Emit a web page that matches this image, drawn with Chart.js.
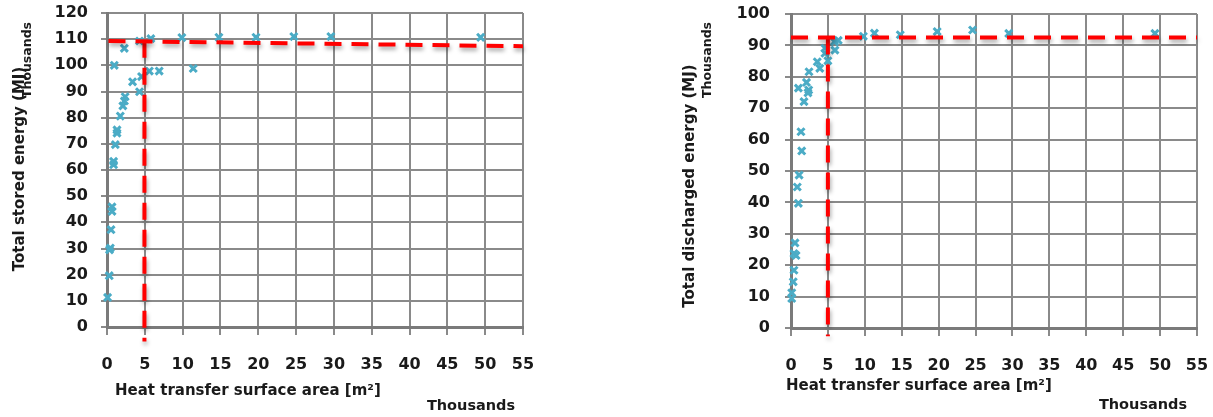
<!DOCTYPE html>
<html>
<head>
<meta charset="utf-8">
<script src="https://cdn.jsdelivr.net/npm/chart.js@4.4.1/dist/chart.umd.min.js"></script>
<style>
html, body { margin: 0; padding: 0; background: #fff; }
#wrap { position: relative; width: 1213px; height: 417px; overflow: hidden; }
canvas { position: absolute; top: 0; }
#storedChart { left: 0; }
#dischargedChart { left: 672px; }
</style>
</head>
<body>
<div id="wrap">
  <canvas id="storedChart" width="600" height="417"></canvas>
  <canvas id="dischargedChart" width="541" height="417"></canvas>
</div>
<script>
// area in thousands of m2, energy in thousands of MJ
var areaTicks = [0, 5, 10, 15, 20, 25, 30, 35, 40, 45, 50, 55];
var storedTicks = [0, 10, 20, 30, 40, 50, 60, 70, 80, 90, 100, 110, 120];
var dischargedTicks = [0, 10, 20, 30, 40, 50, 60, 70, 80, 90, 100];

var storedArea = [0.08, 0.3, 0.33, 0.44, 0.53, 0.66, 0.66, 0.87, 0.87, 1.1, 1.32, 1.32,
  1.76, 2.1, 2.3, 2.4, 0.96, 2.29, 3.38, 4.3, 4.57, 4.3, 5.6, 6.9, 5.8, 9.9, 11.4,
  14.8, 19.7, 24.7, 29.6, 49.4];
var storedEnergy = [11.3, 19.6, 29.5, 30.2, 37.2, 44.2, 45.9, 62.0, 63.3, 69.7, 74.1, 75.3,
  80.6, 84.5, 86.4, 88.0, 100.0, 106.5, 93.7, 89.9, 95.7, 109.3, 97.8, 97.8, 110.2, 110.6, 98.8,
  110.7, 110.7, 111.0, 111.0, 110.7];
// red guide lines
var storedLevelX = [0.2, 55];
var storedLevelY = [109.3, 107.3];
var storedCutX = [4.95, 4.95];
var storedCutY = [109.4, -5.5];

var dischargedArea = [0.1, 0.1, 0.3, 0.4, 0.4, 0.68, 0.54, 1.0, 0.85, 1.1, 1.45, 1.35,
  1.76, 1.0, 2.3, 2.4, 2.1, 2.44, 3.9, 3.56, 5.0, 4.6, 4.6, 5.95, 5.9, 6.4, 9.8, 11.3,
  14.8, 19.8, 24.6, 29.5, 49.3];
var dischargedEnergy = [9.4, 11.2, 14.7, 18.4, 23.7, 23.1, 27.1, 39.7, 44.9, 48.7, 56.4, 62.5,
  72.1, 76.4, 74.9, 75.8, 78.2, 81.6, 82.7, 84.8, 85.1, 87.5, 89.1, 88.5, 91.2, 91.6, 92.9, 93.9,
  93.4, 94.4, 94.9, 93.8, 93.8];
var dischargedLevelX = [0, 55];
var dischargedLevelY = [92.5, 92.5];
var dischargedCutX = [5, 5];
var dischargedCutY = [92.5, -2.6];

function pts(xs, ys) {
  return xs.map(function (x, i) { return { x: x, y: ys[i] }; });
}

var textColor = '#1a1a1a';
var gridColor = '#8a8a8a';

var textPlugin = {
  id: 'texts',
  afterDraw: function (chart, args, opts) {
    var ctx = chart.ctx;
    (opts.items || []).forEach(function (t) {
      ctx.save();
      ctx.font = t.font;
      ctx.fillStyle = textColor;
      ctx.translate(t.x, t.y);
      if (t.rotate) ctx.rotate(-Math.PI / 2);
      ctx.textAlign = t.align || 'center';
      ctx.textBaseline = 'middle';
      ctx.fillText(t.text, 0, 0);
      ctx.restore();
    });
  }
};

var shadowPlugin = {
  id: 'dashShadow',
  beforeDatasetDraw: function (chart, args) {
    if (!chart.data.datasets[args.index].guide) return;
    var ctx = chart.ctx;
    ctx.save();
    ctx.shadowColor = 'rgba(0,0,0,0.35)';
    ctx.shadowBlur = 4;
    ctx.shadowOffsetX = 1;
    ctx.shadowOffsetY = 3;
  },
  afterDatasetDraw: function (chart, args) {
    if (!chart.data.datasets[args.index].guide) return;
    chart.ctx.restore();
  }
};

function guide(xs, ys) {
  return {
    guide: true,
    data: pts(xs, ys),
    showLine: true,
    borderColor: '#ff0000',
    borderWidth: 4,
    borderDash: [17, 10],
    pointRadius: 0,
    clip: false,
    order: 0
  };
}

function markers(xs, ys) {
  return {
    data: pts(xs, ys),
    pointStyle: 'crossRot',
    pointRadius: 5,
    borderWidth: 3,
    borderColor: '#4bacc6',
    backgroundColor: '#4bacc6',
    clip: false,
    order: 1
  };
}

// pin the plot area: fixed scale sizes, no extra label padding
function pinScale(size, horizontal) {
  return function (s) {
    if (horizontal) s.height = size; else s.width = size;
    s.paddingLeft = 0; s.paddingRight = 0; s.paddingTop = 0; s.paddingBottom = 0;
  };
}

function makeChart(id, cfg) {
  var tickFont = { family: 'DejaVu Sans', size: 16, weight: 'bold' };
  return new Chart(document.getElementById(id), {
    type: 'scatter',
    data: {
      datasets: [
        guide(cfg.levelX, cfg.levelY),
        guide(cfg.cutX, cfg.cutY),
        markers(cfg.xs, cfg.ys)
      ]
    },
    options: {
      responsive: false,
      animation: false,
      devicePixelRatio: 1,
      layout: { padding: cfg.padding },
      plugins: {
        legend: { display: false },
        tooltip: { enabled: false },
        texts: { items: cfg.texts }
      },
      scales: {
        x: {
          type: 'linear',
          min: 0,
          max: 55,
          afterBuildTicks: function (s) { s.ticks = areaTicks.map(function (v) { return { value: v }; }); },
          afterFit: pinScale(cfg.xHeight, true),
          grid: { color: gridColor, lineWidth: 2, tickLength: 8, tickColor: gridColor },
          border: { color: '#7a7a7a', width: 3 },
          ticks: { font: tickFont, color: textColor, padding: 20, maxRotation: 0, autoSkip: false }
        },
        y: {
          type: 'linear',
          min: 0,
          max: cfg.yMax,
          afterBuildTicks: function (s) { s.ticks = cfg.yTicks.map(function (v) { return { value: v }; }); },
          afterFit: pinScale(cfg.yWidth, false),
          grid: { color: gridColor, lineWidth: 2, tickLength: 6, tickColor: gridColor },
          border: { color: '#7a7a7a', width: 3 },
          ticks: { font: tickFont, color: textColor, padding: cfg.yPad, autoSkip: false }
        }
      }
    },
    plugins: [shadowPlugin, textPlugin]
  });
}

var titleFont = 'bold 15px "DejaVu Sans"';
var smallFont = 'bold 12.5px "DejaVu Sans"';
var thouFont = 'bold 14.5px "DejaVu Sans"';

makeChart('storedChart', {
  xs: storedArea, ys: storedEnergy,
  levelX: storedLevelX, levelY: storedLevelY,
  cutX: storedCutX, cutY: storedCutY,
  yMax: 120, yTicks: storedTicks,
  yWidth: 107, xHeight: 90, yPad: 13,
  padding: { top: 13, right: 77, left: 0, bottom: 0 },
  texts: [
    { text: 'Total stored energy (MJ)', x: 20, y: 169, rotate: true, font: titleFont },
    { text: 'Thousands', x: 28, y: 60, rotate: true, font: smallFont },
    { text: 'Heat transfer surface area [m\u00b2]', x: 115, y: 391, align: 'left', font: titleFont },
    { text: 'Thousands', x: 471, y: 406, font: thouFont }
  ]
});

makeChart('dischargedChart', {
  xs: dischargedArea, ys: dischargedEnergy,
  levelX: dischargedLevelX, levelY: dischargedLevelY,
  cutX: dischargedCutX, cutY: dischargedCutY,
  yMax: 100, yTicks: dischargedTicks,
  yWidth: 119, xHeight: 89, yPad: 15,
  padding: { top: 14, right: 16, left: 0, bottom: 0 },
  texts: [
    { text: 'Total discharged energy (MJ)', x: 18, y: 186, rotate: true, font: titleFont },
    { text: 'Thousands', x: 35.5, y: 60, rotate: true, font: smallFont },
    { text: 'Heat transfer surface area [m\u00b2]', x: 114, y: 386, align: 'left', font: titleFont },
    { text: 'Thousands', x: 471, y: 405, font: thouFont }
  ]
});
</script>
</body>
</html>
